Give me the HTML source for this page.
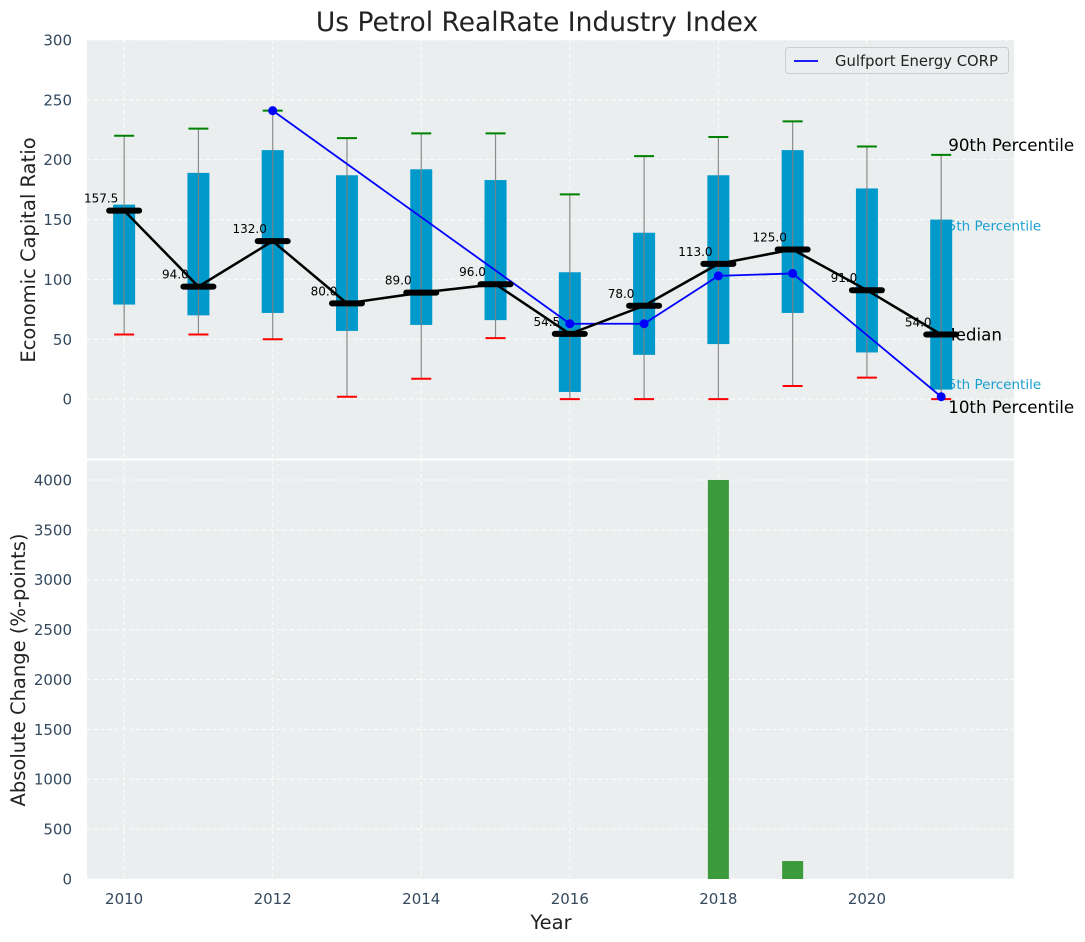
<!DOCTYPE html>
<html><head><meta charset="utf-8"><style>
body{margin:0;background:#fff;}
svg{display:block;font-family:"DejaVu Sans","Liberation Sans",sans-serif;}
</style></head><body>
<svg id="c" width="1085" height="942" viewBox="0 0 1085 942"></svg>
<script>
const years=[2010,2011,2012,2013,2014,2015,2016,2017,2018,2019,2020,2021];
const p90=[220,226,241,218,222,222,171,203,219,232,211,204];
const q75=[162.5,189,208,187,192,183,106,139,187,208,176,150];
const q25=[79,70,72,57,62,66,6,37,46,72,39,8];
const p10=[54,54,50,2,17,51,0,0,0,11,18,0];
const medians=[157.5,94,132,80,89,96,54.5,78,113,125,91,54];
const gulfYears=[2012,2016,2017,2018,2019,2021];
const gulfVals=[241,63,63,103,105,2];
const barYears=[2018,2019];
const barVals=[4000,180];
const topTicks=[0,50,100,150,200,250,300];
const botTicks=[0,500,1000,1500,2000,2500,3000,3500,4000];
const xTicks=[2010,2012,2014,2016,2018,2020];

const NS="http://www.w3.org/2000/svg";
const svg=document.getElementById('c');
function el(tag,attrs,parent,text){const e=document.createElementNS(NS,tag);for(const k in attrs)e.setAttribute(k,attrs[k]);if(text!==undefined)e.textContent=text;(parent||svg).appendChild(e);return e;}
const L=87,R=1014,T1=40,B1=459,T2=460,B2=879;
const xs=y=>L+(y-2009.5)/(2021.98-2009.5)*(R-L);
const y1=v=>B1-(v+50)/350*(B1-T1);
const y2=v=>B2-v/4200*(B2-T2);

let g=el('rect',{x:L,y:T1,width:R-L,height:B1-T1,fill:'#eaeeef'});

g=el('rect',{x:L,y:T2,width:R-L,height:B2-T2,fill:'#eaeeef'});

el('line',{x1:L,x2:R,y1:459.5,y2:459.5,stroke:'#fff','stroke-width':2});

const grid=el('g',{stroke:'#fff','stroke-width':1,'stroke-dasharray':'4,3',opacity:0.9});

xTicks.forEach(t=>{el('line',{x1:xs(t),x2:xs(t),y1:T1,y2:B1},grid);el('line',{x1:xs(t),x2:xs(t),y1:T2,y2:B2},grid);});
topTicks.forEach(t=>el('line',{x1:L,x2:R,y1:y1(t),y2:y1(t)},grid));
botTicks.forEach(t=>el('line',{x1:L,x2:R,y1:y2(t),y2:y2(t)},grid));

const tc='#34495e';
topTicks.forEach(t=>{const e=el('text',{x:72,y:y1(t)+5.5,'text-anchor':'end','font-size':15,fill:tc},svg,t);});
botTicks.forEach(t=>{const e=el('text',{x:72,y:y2(t)+5.5,'text-anchor':'end','font-size':15,fill:tc},svg,t);});
xTicks.forEach(t=>{const e=el('text',{x:xs(t),y:904,'text-anchor':'middle','font-size':15,fill:tc},svg,t);});

const last=years.length-1, lx=xs(years[last]);
const anns=[['90th Percentile',p90[last],'#000',16.7,7,-4],['75th Percentile',q75[last],'#1aa0d0',13.5,-2,11],['Median',medians[last],'#000',16.7,0,6],['25th Percentile',q25[last],'#1aa0d0',13.5,-2,-0.5],['10th Percentile',p10[last],'#000',16.7,7,14]];
anns.forEach(a=>{
  const e=el('text',{x:lx+a[4],y:y1(a[1])+a[5],'font-size':a[3],fill:a[2]},svg,a[0]);
  
});

years.forEach((yr,i)=>{
  const x=xs(yr);
  const grp=el('g',{});
  
  el('rect',{x:x-11,y:y1(q75[i]),width:22,height:y1(q25[i])-y1(q75[i]),fill:'#0099cc'},grp);
  el('line',{x1:x,x2:x,y1:y1(p90[i]),y2:y1(p10[i]),stroke:'#808080','stroke-width':1.2,opacity:0.9},grp);
  el('line',{x1:x-10,x2:x+10,y1:y1(p90[i]),y2:y1(p90[i]),stroke:'#008000','stroke-width':2},grp);
  el('line',{x1:x-10,x2:x+10,y1:y1(p10[i]),y2:y1(p10[i]),stroke:'#ff0000','stroke-width':2},grp);
});

const gp=el('polyline',{points:gulfYears.map((y,i)=>xs(y)+','+y1(gulfVals[i])).join(' '),fill:'none',stroke:'#0000ff','stroke-width':1.8});

gulfYears.forEach((y,i)=>{const c=el('circle',{cx:xs(y),cy:y1(gulfVals[i]),r:4.5,fill:'#0000ff'});});

const ml=el('polyline',{points:years.map((y,i)=>xs(y)+','+y1(medians[i])).join(' '),fill:'none',stroke:'#000','stroke-width':2.5});

years.forEach((y,i)=>{
  const x=xs(y),yy=y1(medians[i]);
  const m=el('line',{x1:x-15,x2:x+15,y1:yy,y2:yy,stroke:'#000','stroke-width':6,'stroke-linecap':'round'});
  
  const t=el('text',{x:x-23,y:yy-8,'text-anchor':'middle','font-size':12,fill:'#000'},svg,medians[i].toFixed(1));
  
});

barYears.forEach((y,i)=>{const r=el('rect',{x:xs(y)-10.5,y:y2(barVals[i]),width:21,height:B2-y2(barVals[i]),fill:'#3a9a3c'});});

const lg=el('g',{});
el('rect',{x:785.5,y:47.5,width:223,height:26,rx:3,fill:'#eaeeef',stroke:'#ccc'},lg);
el('line',{x1:794,x2:818,y1:61,y2:61,stroke:'#0000ff','stroke-width':1.8},lg);
el('text',{x:835,y:66,'font-size':14.8,fill:'#222'},lg,'Gulfport Energy CORP');

let t=el('text',{x:537,y:31,'text-anchor':'middle','font-size':26.5,fill:'#222'},svg,'Us Petrol RealRate Industry Index');

t=el('text',{x:0,y:0,'text-anchor':'middle','font-size':19.5,fill:'#222',transform:'translate(35,250) rotate(-90)'},svg,'Economic Capital Ratio');

t=el('text',{x:0,y:0,'text-anchor':'middle','font-size':19.5,fill:'#222',transform:'translate(25,670) rotate(-90)'},svg,'Absolute Change (%-points)');

t=el('text',{x:551,y:929,'text-anchor':'middle','font-size':19.5,fill:'#222'},svg,'Year');

</script>
</body></html>
